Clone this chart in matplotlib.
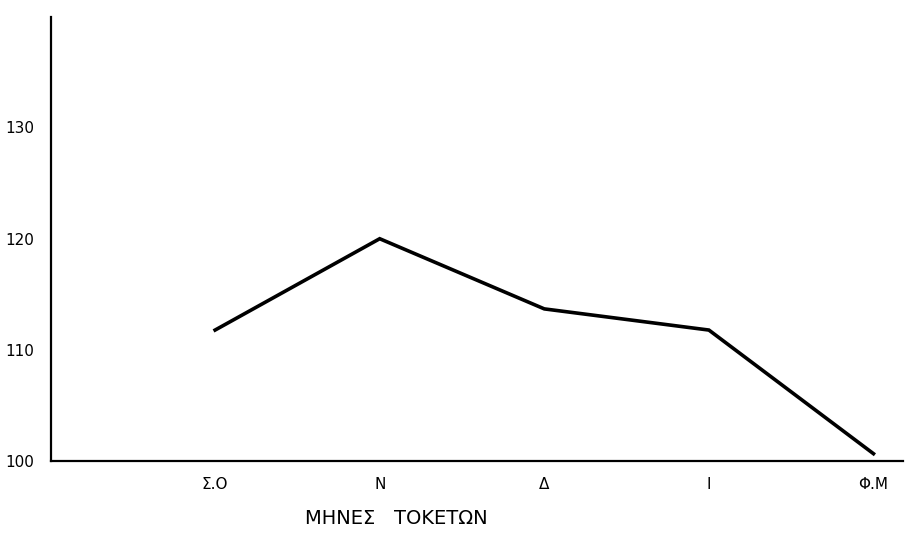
import matplotlib
matplotlib.use("Agg")
import matplotlib.pyplot as plt

months = ["Σ.Ο", "Ν", "Δ", "Ι", "Φ.Μ"]
values = [111.8, 120.0, 113.7, 111.8, 100.7]
y_ticks = [100, 110, 120, 130]

fig = plt.figure(figsize=(9.07, 5.4), dpi=100)
ax = fig.add_axes([0.0557, 0.1454, 0.940, 0.823])

x = list(range(1, len(months) + 1))
ax.plot(x, values, color="black", linewidth=2.6, solid_joinstyle="miter")

ax.set_xlim(0, 5.18)
ax.set_ylim(100, 139.9)
ax.set_xticks(x)
ax.set_xticklabels(months)
ax.set_yticks(y_ticks)
ax.tick_params(axis="both", length=0, labelsize=11)
ax.tick_params(axis="x", pad=11)
ax.tick_params(axis="y", pad=12)

for side in ["top", "right"]:
    ax.spines[side].set_visible(False)
for side in ["left", "bottom"]:
    ax.spines[side].set_linewidth(1.6)

fig.text(396 / 907, 1 - 518 / 540, "ΜΗΝΕΣ   ΤΟΚΕΤΩΝ", ha="center", va="center",
         fontsize=14)

fig.savefig("out.png", dpi=100)
